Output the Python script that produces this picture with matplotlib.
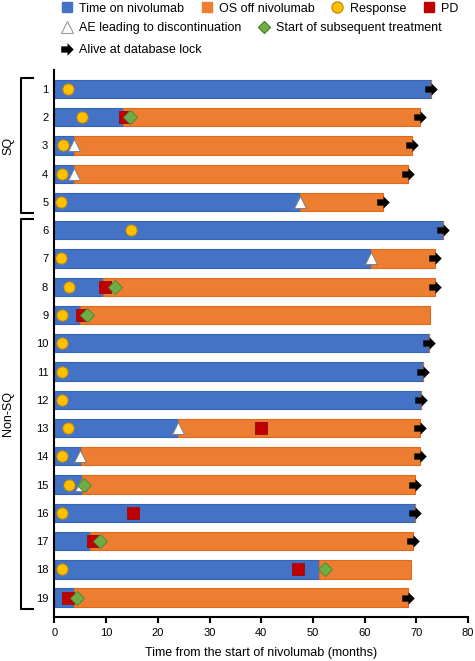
import matplotlib
matplotlib.use('Agg')
import matplotlib.pyplot as plt
from matplotlib.lines import Line2D
from matplotlib.path import Path
from matplotlib.transforms import blended_transform_factory

plt.rcParams['font.family'] = ['Liberation Sans', 'DejaVu Sans']

# swimmer data (months from start of nivolumab)
patients = list(range(1, 20))
on_nivo = [72.8, 13.3, 3.8, 3.8, 47.5, 75.2, 61.2, 9.3, 4.9, 72.5,
           71.3, 71.0, 23.8, 5.1, 5.3, 69.7, 6.9, 51.2, 3.8]
os_end = [72.8, 70.7, 69.1, 68.4, 63.6, 75.2, 73.6, 73.6, 72.6, 72.5,
          71.3, 71.0, 70.7, 70.7, 69.7, 69.7, 69.3, 68.9, 68.4]

resp_pt = [1, 2, 3, 4, 5, 6, 7, 8, 9, 10, 11, 12, 13, 14, 15, 16, 18]
resp_t = [2.7, 5.4, 1.6, 1.4, 1.2, 14.8, 1.3, 2.9, 1.4, 1.4, 1.4, 1.4, 2.7, 1.4, 2.9, 1.4, 1.4]

pd_pt = [2, 8, 9, 13, 16, 17, 18, 19]
pd_t = [13.6, 9.8, 5.4, 39.9, 15.2, 7.4, 47.2, 2.7]

ae_pt = [3, 4, 5, 7, 13, 14, 15]
ae_t = [3.8, 3.8, 47.5, 61.2, 23.8, 4.9, 5.1]

subseq_pt = [2, 8, 9, 15, 17, 18, 19]
subseq_t = [14.6, 11.7, 6.3, 5.7, 8.8, 52.3, 4.4]

alive_pt = [1, 2, 3, 4, 5, 6, 7, 8, 10, 11, 12, 13, 14, 15, 16, 17, 19]

groups = [('SQ', 1, 5), ('Non-SQ', 6, 19)]
xticks = [0, 10, 20, 30, 40, 50, 60, 70, 80]

BLUE, BLUE_E = '#4472C4', '#3563B5'
ORANGE, ORANGE_E = '#ED7D31', '#E06A1C'
YELLOW, RED, GREEN = '#FFC000', '#C00000', '#70AD47'

# block arrow marker
arrow = Path([(-1, -0.5), (0, -0.5), (0, -1), (1, 0), (0, 1), (0, 0.5), (-1, 0.5), (-1, -0.5)],
             [Path.MOVETO] + [Path.LINETO] * 6 + [Path.CLOSEPOLY])

fig = plt.figure(figsize=(4.75, 6.61), dpi=100)
ax = fig.add_axes([0.1147, 0.066, 0.8706, 0.8285])

h = 0.65
off_w = [o - b for o, b in zip(os_end, on_nivo)]
ax.barh(patients, on_nivo, height=h, color=BLUE, edgecolor=BLUE_E, linewidth=0.8)
ax.barh(patients, off_w, left=on_nivo, height=h, color=ORANGE, edgecolor=ORANGE_E, linewidth=0.8)

ax.plot(resp_t, resp_pt, 'o', ms=8, mfc=YELLOW, mec='#D08C00', mew=0.7, ls='none')
ax.plot(pd_t, pd_pt, 's', ms=8, mfc=RED, mec='#9A1010', mew=0.7, ls='none')
ax.plot(ae_t, ae_pt, '^', ms=9, mfc='white', mec='#7F7F7F', mew=0.7, ls='none')
ax.plot(subseq_t, subseq_pt, 'D', ms=7, mfc=GREEN, mec='#4E8A30', mew=0.7, ls='none')
alive_x = [os_end[p - 1] for p in alive_pt]
ax.plot(alive_x, alive_pt, marker=arrow, ms=9, color='black', mew=0, ls='none')

ax.set_xlim(0, 80)
ax.set_ylim(19.7, 0.32)
ax.set_xticks(xticks)
ax.set_yticks(patients)
ax.set_yticklabels([str(p) for p in patients])
ax.tick_params(axis='y', length=0, pad=4.5, labelsize=8)
ax.tick_params(axis='x', direction='out', length=4.3, width=1.5, labelsize=8, pad=3)
for s in ['top', 'right']:
    ax.spines[s].set_visible(False)
for s in ['left', 'bottom']:
    ax.spines[s].set_linewidth(1.5)
ax.set_xlabel('Time from the start of nivolumab (months)', fontsize=9, labelpad=7)

# group brackets
tr = blended_transform_factory(ax.transAxes, ax.transData)
for name, a, b in groups:
    y0, y1 = a - 0.4, b + 0.4
    ax.plot([-0.052, -0.081, -0.081, -0.052], [y0, y0, y1, y1], color='black', lw=1.5,
            transform=tr, clip_on=False)
    ax.text(-0.112, (y0 + y1) / 2, name, rotation=90, ha='center', va='center',
            fontsize=9, transform=tr)

# legend rows
def mk(m, **kw):
    return Line2D([], [], marker=m, ls='none', **kw)

rows = [
    ([mk('s', ms=7, mfc=BLUE, mec=BLUE), mk('s', ms=7, mfc=ORANGE, mec=ORANGE),
      mk('o', ms=8, mfc=YELLOW, mec='#D08C00'), mk('s', ms=7, mfc=RED, mec=RED)],
     ['Time on nivolumab', 'OS off nivolumab', 'Response', 'PD'], 0.987),
    ([mk('^', ms=8, mfc='white', mec='#999999', mew=0.8), mk('D', ms=6, mfc=GREEN, mec='#4E8A30')],
     ['AE leading to discontinuation', 'Start of subsequent treatment'], 0.957),
    ([mk(arrow, ms=9, color='black', mew=0)], ['Alive at database lock'], 0.924),
]
for handles, labels, y in rows:
    fig.legend(handles, labels, loc='center left', bbox_to_anchor=(0.127, y), ncol=len(labels),
               frameon=False, fontsize=9, borderpad=0, handlelength=1.0, handletextpad=0.5,
               columnspacing=1.3, borderaxespad=0)

fig.savefig('out.png', dpi=100)
